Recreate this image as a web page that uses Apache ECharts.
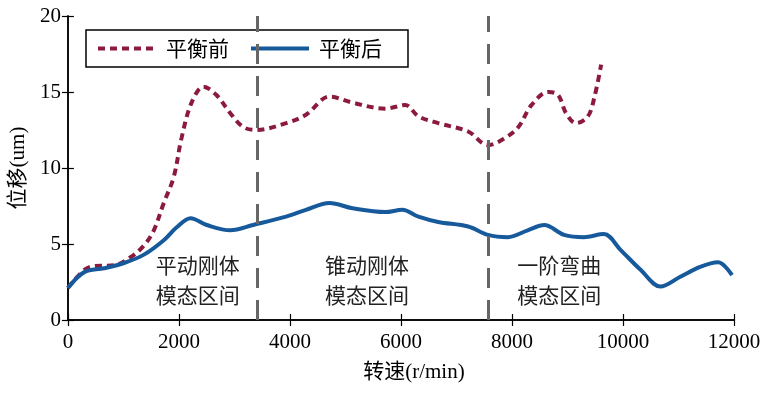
<!DOCTYPE html>
<html>
<head>
<meta charset="utf-8">
<script src="https://cdn.jsdelivr.net/npm/echarts@6/dist/echarts.min.js"></script>
<style>
  html, body { margin: 0; padding: 0; background: #fff; }
  #chart { width: 776px; height: 396px; }
</style>
</head>
<body>
<div id="chart"></div>
<script>
  // 平衡前
  var speedBefore = [0, 295, 474, 832, 1136, 1370, 1548, 1727, 1906, 2049, 2228, 2443, 2676, 2926, 3158, 3391,
    3931, 4289, 4713, 5128, 5718, 6076, 6315, 6672, 7210, 7568, 7866, 8116, 8354, 8653, 8832, 8975, 9154, 9368, 9488, 9607];
  var dispBefore = [2.1, 3.3, 3.55, 3.6, 4.15, 4.9, 5.9, 7.7, 9.4, 12.0, 14.3, 15.35, 14.8, 13.6, 12.7, 12.5,
    12.95, 13.5, 14.7, 14.3, 13.9, 14.15, 13.4, 12.95, 12.4, 11.5, 11.95, 12.7, 14.15, 15.0, 14.8, 13.6, 12.95, 13.4, 14.7, 16.8];
  // 平衡后
  var speedAfter = [0, 295, 653, 1011, 1370, 1727, 1960, 2210, 2503, 2926, 3337, 3931, 4289, 4713, 5128, 5718,
    6022, 6315, 6672, 7210, 7568, 7926, 8283, 8581, 8939, 9297, 9655, 9959, 10317, 10675, 11033, 11391, 11713, 11964];
  var dispAfter = [2.1, 3.15, 3.4, 3.75, 4.3, 5.25, 6.1, 6.7, 6.25, 5.9, 6.25, 6.8, 7.25, 7.7, 7.35, 7.1,
    7.25, 6.8, 6.45, 6.15, 5.6, 5.45, 5.9, 6.25, 5.6, 5.45, 5.65, 4.6, 3.3, 2.2, 2.85, 3.5, 3.8, 2.95];

  var seriesNames = ['平衡前', '平衡后'];
  var boundaries = [3420, 7580];
  var zoneLabels = ['平动刚体\n模态区间', '锥动刚体\n模态区间', '一阶弯曲\n模态区间'];
  var zoneSpeed = [2340, 5390, 8850];
  var zoneDisp = [2.63, 2.63, 2.63];

  function pairs(xs, ys) {
    var out = [];
    for (var i = 0; i < xs.length; i++) out.push([xs[i], ys[i]]);
    return out;
  }

  var serif = 'Liberation Serif, Noto Sans CJK SC';
  var cjk = 'Noto Sans CJK SC';

  var chartDom = document.getElementById('chart');
  var myChart = echarts.init(chartDom, null, { renderer: 'canvas' });

  var axisLine = { show: true, lineStyle: { color: '#000', width: 1.5 } };
  var axisTick = { show: true, inside: true, length: 6, lineStyle: { color: '#000', width: 1.2 } };
  var plain = function (v) { return String(v); };

  var option = {
    animation: false,
    backgroundColor: '#fff',
    grid: { left: 63.5, right: 42, top: 16, bottom: 76 },
    legend: {
      data: seriesNames,
      left: 86, top: 30,
      orient: 'horizontal',
      backgroundColor: '#fff',
      borderColor: '#000',
      borderWidth: 1.5,
      borderRadius: 0,
      padding: [8, 26, 8, 10],
      itemWidth: 58,
      itemHeight: 20,
      itemGap: 20,
      itemStyle: { opacity: 0 },
      lineStyle: { width: 4 },
      textStyle: { fontFamily: cjk, fontSize: 21, color: '#000', padding: [0, 0, 0, 5] }
    },
    xAxis: [{
      type: 'value', min: 0, max: 12000, interval: 2000,
      name: '转速(r/min)', nameLocation: 'middle', nameGap: 42,
      nameTextStyle: { fontFamily: serif, fontSize: 21, color: '#000', padding: [0, 0, 0, 26] },
      axisLine: axisLine, axisTick: axisTick,
      axisLabel: { fontFamily: serif, fontSize: 21, color: '#000', margin: 12, formatter: plain },
      splitLine: { show: false }
    }, {
      type: 'value', min: 0, max: 12000, interval: 2000, position: 'top',
      axisLine: axisLine, axisTick: axisTick, axisLabel: { show: false }, splitLine: { show: false }
    }],
    yAxis: [{
      type: 'value', min: 0, max: 20, interval: 5,
      name: '位移(um)', nameLocation: 'middle', nameGap: 36, nameRotate: 90,
      nameTextStyle: { fontFamily: serif, fontSize: 21, color: '#000' },
      axisLine: axisLine, axisTick: axisTick,
      axisLabel: { fontFamily: serif, fontSize: 21, color: '#000', margin: 7, formatter: plain },
      splitLine: { show: false }
    }, {
      type: 'value', min: 0, max: 20, interval: 5, position: 'right',
      axisLine: axisLine, axisTick: axisTick, axisLabel: { show: false }, splitLine: { show: false }
    }],
    series: [{
      name: seriesNames[0],
      type: 'line',
      smooth: 0.35,
      symbol: 'none',
      z: 3,
      data: pairs(speedBefore, dispBefore),
      itemStyle: { color: '#8C1A3C' },
      lineStyle: { color: '#8C1A3C', width: 4, type: [7, 5] }
    }, {
      name: seriesNames[1],
      type: 'line',
      smooth: 0.35,
      symbol: 'none',
      z: 3,
      data: pairs(speedAfter, dispAfter),
      itemStyle: { color: '#175A9C' },
      lineStyle: { color: '#175A9C', width: 4 },
      markLine: {
        silent: true,
        symbol: 'none',
        label: { show: false },
        lineStyle: { color: '#666', width: 3, type: [20, 12] },
        data: boundaries.map(function (b) { return { xAxis: b }; })
      },
      markPoint: {
        silent: true,
        symbol: 'rect',
        symbolSize: 0,
        label: {
          show: true, position: 'inside',
          fontFamily: cjk, fontSize: 21, lineHeight: 30, color: '#222',
          formatter: function (p) { return p.name; }
        },
        data: zoneLabels.map(function (t, i) {
          return { name: t, coord: [zoneSpeed[i], zoneDisp[i]] };
        })
      }
    }]
  };

  option && myChart.setOption(option);
</script>
</body>
</html>
